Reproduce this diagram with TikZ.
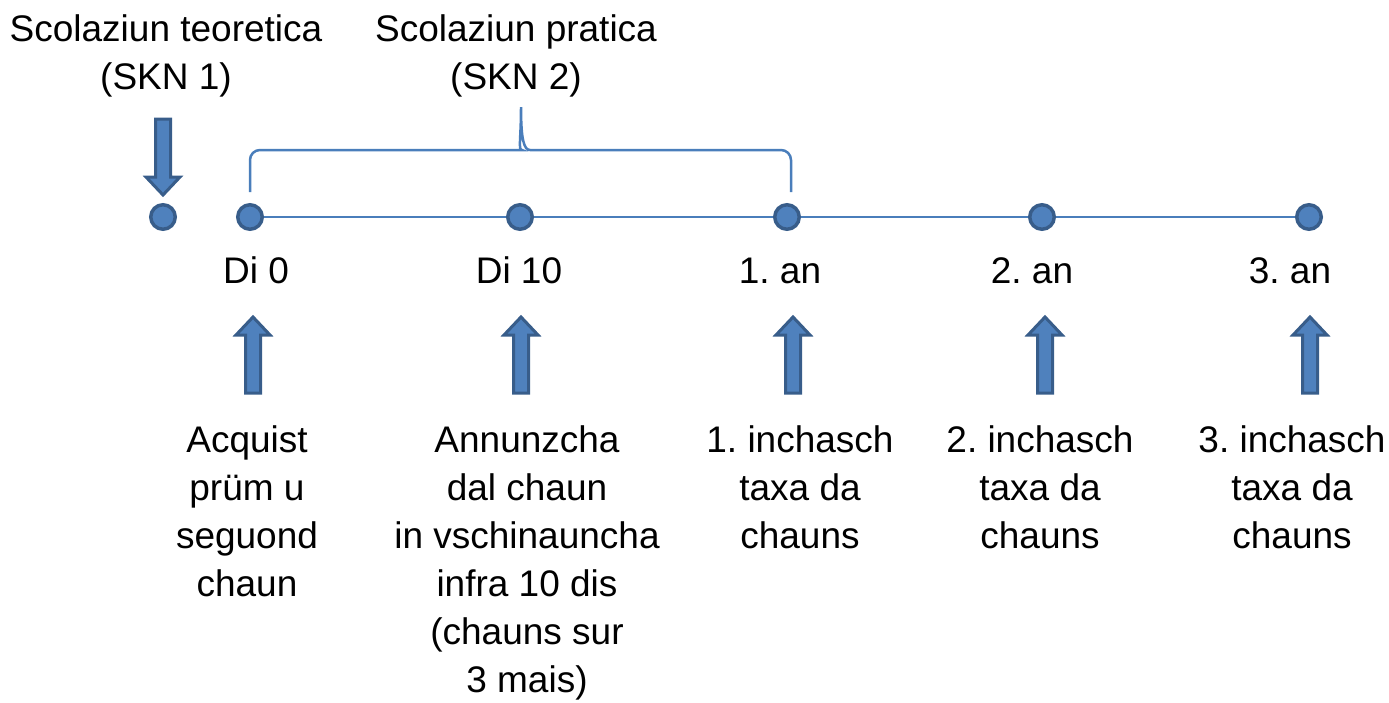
\documentclass[tikz,border=0pt]{standalone}
\usepackage{fontspec}
\setmainfont{Liberation Sans}
\usetikzlibrary{positioning}
\frenchspacing
\definecolor{lineblue}{HTML}{4A7EBB}
\definecolor{dotfill}{HTML}{4F81BD}
\definecolor{dotedge}{HTML}{385D8A}
\tikzset{
  dot/.style={circle, fill=dotfill, draw=dotedge, line width=3.5pt, minimum size=24.5pt, inner sep=0pt},
  lbl/.style={font=\fontsize{37}{48}\selectfont, inner sep=0pt, align=center},
  tline/.style={draw=lineblue, line width=2.5pt},
  blockarrow/.pic={
    \draw[fill=dotfill, draw=dotedge, line width=3pt, miter limit=10]
      (-7.5,0) -- (-7.5,58) -- (-17,58) -- (0,76) -- (17,58) -- (7.5,58) -- (7.5,0) -- cycle;
  }
}
\begin{document}
\begin{tikzpicture}[x=1pt, y=-1pt]
\useasboundingbox (0,0) rectangle (1389,702);

% time line
\draw[tline] (250,217) -- (1309,217);
\node[dot] (d0) at (163,217) {};
\node[dot] (d1) at (250,217) {};
\node[dot] (d2) at (520,217) {};
\node[dot] (d3) at (787,217) {};
\node[dot] (d4) at (1042,217) {};
\node[dot] (d5) at (1309,217) {};

% brace over SKN 2
\coordinate (bl) at (250,192);
\coordinate (br) at (791,192);
\coordinate (bt) at (521,107);
\draw[tline] (bl) [rounded corners=10pt] |- (512,150) [sharp corners]
  .. controls (518,150) and (521,140) .. (bt)
  .. controls (521,140) and (524,150) .. (530,150) [rounded corners=10pt] -| (br);

% top labels
\node[lbl, anchor=north] (skn1) at (166,14) {Scolaziun teoretica\\(SKN 1)};
\node[lbl, anchor=north] (skn2) at (516,14) {Scolaziun pratica\\(SKN 2)};
\pic at (163,119) {blockarrow};

% day labels
\node[lbl, anchor=base] (t0) at (256,283) {Di 0};
\node[lbl, anchor=base] (t1) at (519,283) {Di 10};
\node[lbl, anchor=base] (t2) at (780,283) {1. an};
\node[lbl, anchor=base] (t3) at (1032,283) {2. an};
\node[lbl, anchor=base] (t4) at (1290,283) {3. an};

% up arrows
\pic[rotate=180] at (253,393) {blockarrow};
\pic[rotate=180] at (521,393) {blockarrow};
\pic[rotate=180] at (793,393) {blockarrow};
\pic[rotate=180] at (1045,393) {blockarrow};
\pic[rotate=180] at (1310,393) {blockarrow};

% bottom labels
\node[lbl, anchor=north] (e0) at (247,425) {Acquist\\prüm u\\seguond\\chaun};
\node[lbl, anchor=north] (e1) at (527,425) {Annunzcha\\dal chaun\\in vschinauncha\\infra 10 dis\\(chauns sur\\3 mais)};
\node[lbl, anchor=north] (e2) at (800,425) {1. inchasch\\taxa da\\chauns};
\node[lbl, anchor=north] (e3) at (1040,425) {2. inchasch\\taxa da\\chauns};
\node[lbl, anchor=north] (e4) at (1292,425) {3. inchasch\\taxa da\\chauns};
\end{tikzpicture}
\end{document}
